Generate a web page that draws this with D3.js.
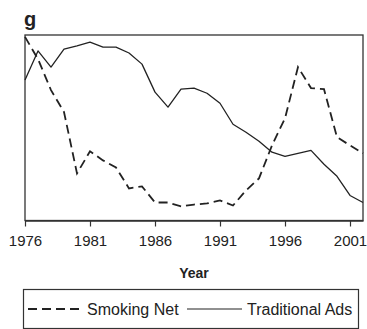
<!DOCTYPE html>
<html>
<head>
<meta charset="utf-8">
<script src="https://cdn.jsdelivr.net/npm/d3@7/dist/d3.min.js"></script>
<style>
  html, body { margin: 0; padding: 0; background: #fff; }
  svg { display: block; font-family: "Liberation Sans", Arial, Helvetica, sans-serif; }
</style>
</head>
<body>
<svg id="chart" width="367" height="329"></svg>
<script>
// Yearly index values (relative units, no y scale shown)
const years = d3.range(1976, 2003);
const smokingNet = [99, 87, 70.3, 58.5, 25.4, 37.3, 32.4, 28.6, 17.3, 18.4, 9.7, 9.7, 7.6, 8.6, 9.2, 10.8, 8.1, 16.2, 22.7, 40.5, 55.1, 82.7, 71.4, 70.8, 44.9, 40.5, 36.2];
const traditionalAds = [75.7, 91.4, 82.7, 92.4, 94.1, 96.2, 93.5, 93.5, 90.3, 84.3, 69.2, 61.1, 70.8, 71.4, 68.6, 63.2, 51.9, 47.6, 42.7, 36.8, 34.6, 36.2, 37.8, 30.3, 23.8, 13.5, 9.7];
const tickYears = [1976, 1981, 1986, 1991, 1996, 2001];
const seriesNames = ["Smoking Net", "Traditional Ads"];

const svg = d3.select("#chart");
const ink = "#222";
const plotLeft = 25, plotRight = 363, plotTop = 35, plotBottom = 220.5;

const x = d3.scaleLinear().domain([1976, 2002]).range([plotLeft, plotRight]);
const y = d3.scaleLinear().domain([0, 100]).range([plotBottom, plotTop]);

// panel letter
svg.append("text")
  .attr("x", 24).attr("y", 26)
  .attr("font-size", 20).attr("font-weight", "bold")
  .attr("fill", ink)
  .text("g");

// frame
svg.append("rect")
  .attr("x", plotLeft).attr("y", plotTop)
  .attr("width", plotRight - plotLeft).attr("height", plotBottom - plotTop)
  .attr("fill", "none").attr("stroke", "#333").attr("stroke-width", 1.3);

// x axis
const xAxis = d3.axisBottom(x)
  .tickValues(tickYears)
  .tickFormat(d3.format("d"))
  .tickSize(6)
  .tickSizeOuter(0)
  .tickPadding(9);
const gx = svg.append("g")
  .attr("transform", `translate(0,${plotBottom})`)
  .call(xAxis);
gx.select(".domain").attr("stroke", "#333").attr("stroke-width", 1.3);
gx.selectAll(".tick line").attr("stroke", "#333").attr("stroke-width", 1.2);
gx.selectAll(".tick text")
  .attr("font-size", 15)
  .attr("font-family", "Liberation Sans, Arial, sans-serif")
  .attr("fill", ink);

svg.append("text")
  .attr("x", (plotLeft + plotRight) / 2).attr("y", 278)
  .attr("text-anchor", "middle")
  .attr("font-size", 14).attr("font-weight", "bold")
  .attr("fill", ink)
  .text("Year");

// series lines
const line = d3.line()
  .x((d, i) => x(years[i]))
  .y(d => y(d));

svg.append("path")
  .datum(traditionalAds)
  .attr("d", line)
  .attr("fill", "none")
  .attr("stroke", ink)
  .attr("stroke-width", 1.3)
  .attr("stroke-linejoin", "round");

svg.append("path")
  .datum(smokingNet)
  .attr("d", line)
  .attr("fill", "none")
  .attr("stroke", ink)
  .attr("stroke-width", 1.8)
  .attr("stroke-dasharray", "9,5");

// legend
const lg = svg.append("g");
lg.append("rect")
  .attr("x", 23.5).attr("y", 289.5)
  .attr("width", 335).attr("height", 39)
  .attr("fill", "none").attr("stroke", "#333").attr("stroke-width", 1.2);

lg.append("line")
  .attr("x1", 28).attr("x2", 83).attr("y1", 309).attr("y2", 309)
  .attr("stroke", ink).attr("stroke-width", 2)
  .attr("stroke-dasharray", "9,5");
lg.append("text")
  .attr("x", 87).attr("y", 315)
  .attr("font-size", 16).attr("fill", ink)
  .text(seriesNames[0]);

lg.append("line")
  .attr("x1", 187).attr("x2", 242).attr("y1", 309).attr("y2", 309)
  .attr("stroke", ink).attr("stroke-width", 1.2);
lg.append("text")
  .attr("x", 247).attr("y", 315)
  .attr("font-size", 16).attr("fill", ink)
  .text(seriesNames[1]);
</script>
</body>
</html>
